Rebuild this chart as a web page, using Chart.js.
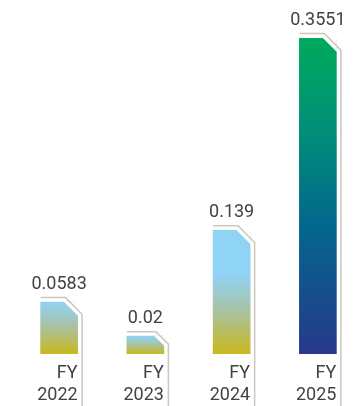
<!DOCTYPE html>
<html>
<head>
<meta charset="utf-8">
<script src="https://cdn.jsdelivr.net/npm/chart.js@4/dist/chart.umd.min.js"></script>
<style>
  html,body{margin:0;padding:0;background:#fff;}
  #wrap{width:361px;height:406px;position:relative;}
</style>
</head>
<body>
<div id="wrap"><canvas id="c"></canvas></div>
<script>
// fiscal years and values
const years = ['2022', '2023', '2024', '2025'];
const prefix = 'FY';
const values = [0.0583, 0.02, 0.139, 0.3551];

const TEXT = '#424242';
const FONT = 'Roboto, "DejaVu Sans", sans-serif';
const CUT = 14;      // clipped top-right corner
const GAP = 4.5;     // distance of the frame line from the bar

// light blue -> olive yellow for past years, green -> navy for the latest
function barFill(ctx){
  const chart = ctx.chart;
  const i = ctx.dataIndex;
  const y = chart.scales.y;
  if(!y || !chart.chartArea) return '#8fd3f4';
  const top = y.getPixelForValue(values[i]);
  const bottom = y.getPixelForValue(0);
  const g = chart.ctx.createLinearGradient(0, top, 0, bottom);
  if(i === values.length - 1){
    g.addColorStop(0, '#00aa5b');
    g.addColorStop(0.3, '#008e78');
    g.addColorStop(0.6, '#03668d');
    g.addColorStop(1, '#27398c');
  } else {
    const h = bottom - top;
    const hold = Math.max(0, 1 - 80 / h);
    g.addColorStop(0, '#8fd3f5');
    g.addColorStop(hold, '#8fd3f5');
    g.addColorStop(hold + (1 - hold) * 0.45, '#a8c2a6');
    g.addColorStop(1, '#c9b81c');
  }
  return g;
}

// corner cut, frame line and value on top of every bar
const barDecor = {
  id: 'barDecor',
  afterDatasetsDraw(chart){
    const c = chart.ctx;
    const meta = chart.getDatasetMeta(0);
    const k = Math.SQRT2 - 1;
    meta.data.forEach((el, i)=>{
      const w = el.width;
      const left = el.x - w / 2, right = el.x + w / 2;
      const top = el.y;
      const cut = Math.min(CUT, (el.base - top) * 0.55);
      c.save();
      c.fillStyle = '#fff';
      c.beginPath();
      c.moveTo(right - cut, top - 0.5);
      c.lineTo(right + 0.5, top - 0.5);
      c.lineTo(right + 0.5, top + cut);
      c.closePath();
      c.fill();

      c.strokeStyle = '#c9c7be';
      c.lineWidth = 1.5;
      c.beginPath();
      c.moveTo(left, top - GAP);
      c.lineTo(right - cut + GAP * k, top - GAP);
      c.lineTo(right + GAP, top + cut - GAP * k);
      c.lineTo(right + GAP, chart.height);
      c.stroke();

      c.fillStyle = TEXT;
      c.font = '18px ' + FONT;
      c.textAlign = 'center';
      c.textBaseline = 'middle';
      c.fillText(String(values[i]), el.x, top - 18);
      c.restore();
    });
  }
};

new Chart(document.getElementById('c'), {
  type: 'bar',
  data: {
    labels: years.map(y => [prefix, y]),
    datasets: [{
      data: values,
      backgroundColor: barFill,
      borderWidth: 0,
      barThickness: 37
    }]
  },
  options: {
    responsive: true,
    maintainAspectRatio: false,
    animation: false,
    layout: {padding: {top: 38, left: 16, right: 0, bottom: 0}},
    plugins: {legend: {display: false}, tooltip: {enabled: false}},
    scales: {
      x: {
        grid: {display: false, drawTicks: false},
        border: {display: false},
        ticks: {
          color: TEXT,
          font: {family: FONT, size: 18, lineHeight: 1.22},
          align: 'end',
          labelOffset: 18.5,
          padding: 9,
          maxRotation: 0
        },
        afterFit(scale){ scale.height = 52; }
      },
      y: {
        display: false,
        min: 0,
        max: 0.3551
      }
    }
  },
  plugins: [barDecor]
});
</script>
</body>
</html>
